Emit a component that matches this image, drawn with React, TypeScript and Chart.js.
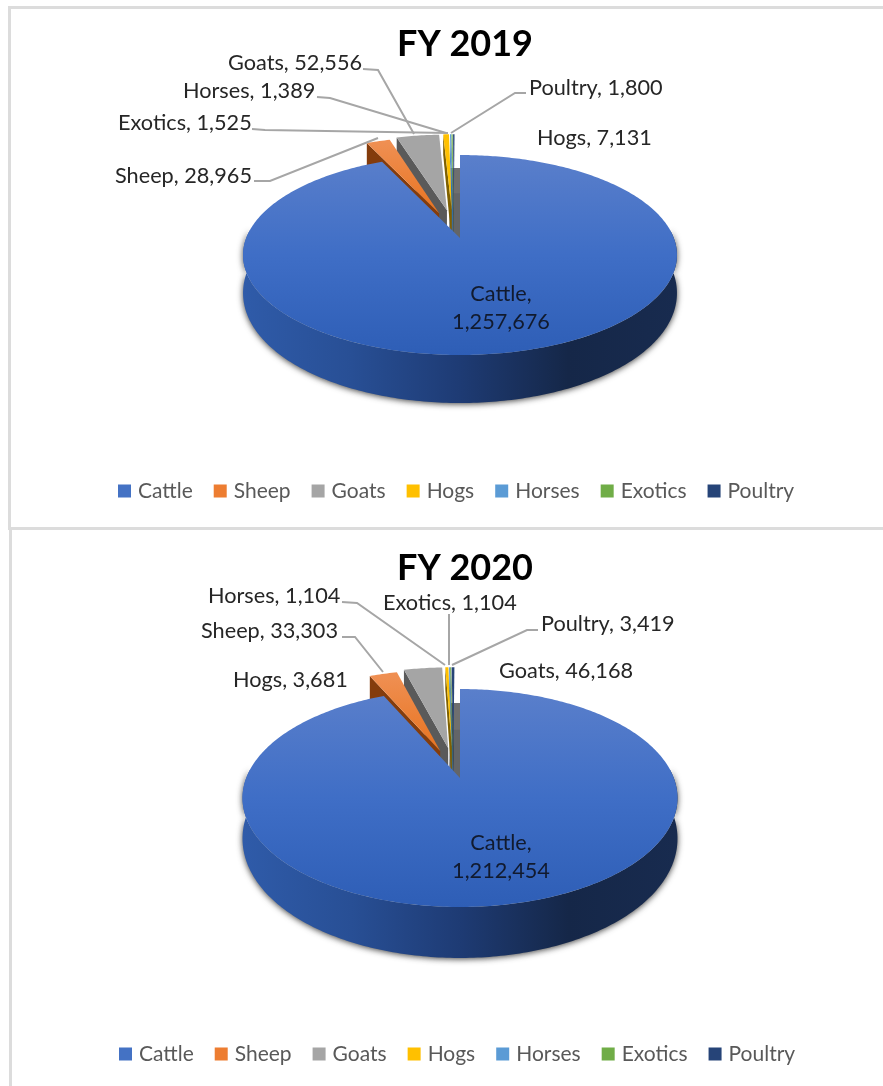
import React, { useEffect, useRef } from "react";
import { Chart, registerables } from "chart.js";

Chart.register(...registerables);

const categories = ["Cattle", "Sheep", "Goats", "Hogs", "Horses", "Exotics", "Poultry"];
const values2019 = [1257676, 28965, 52556, 7131, 1389, 1525, 1800];
const values2020 = [1212454, 33303, 46168, 3681, 1104, 1104, 3419];
const faceColors = ["#4472c4", "#ed7d31", "#a5a5a5", "#ffc000", "#5b9bd5", "#70ad47", "#264478"];
const wallColors = ["#1f3864", "#843c0c", "#5a5a5a", "#7f6000", "#2e75b6", "#385723", "#172a4a"];
const leanU = [0, 0, -0.014, -0.03, -0.03, -0.03, -0.03];
const leanV = [0, 0, -0.02, -0.02, -0.02, -0.02, -0.02];

type Callout = { cat: number; x: number; y: number; line?: number[][] };

const layout2019 = {
  left: 11, top: 9, width: 872, height: 518,
  cx: 460, cy: 238, a: 97.1, b: 213.8, k: 0.17, depth: 48, top_y: 155, front_y: 355,
  callouts: [
    { cat: 2, x: 228, y: 63, line: [[363, 69], [378, 70], [414, 134]] },
    { cat: 4, x: 183, y: 91, line: [[317, 97], [330, 98], [446, 133]] },
    { cat: 5, x: 118, y: 123, line: [[252, 129], [265, 130], [448, 133]] },
    { cat: 1, x: 115, y: 176, line: [[254, 181], [270, 181], [378, 138]] },
    { cat: 6, x: 529, y: 88, line: [[526, 93], [515, 93], [451, 133]] },
    { cat: 3, x: 537, y: 138 },
  ] as Callout[],
  cattle: [501, 294, 322],
};

const layout2020 = {
  left: 12, top: 530, width: 871, height: 556,
  cx: 460, cy: 778, a: 105.3, b: 213.8, k: 0.1835, depth: 51, top_y: 689, front_y: 907,
  callouts: [
    { cat: 4, x: 208, y: 596, line: [[342, 602], [357, 603], [445, 665]] },
    { cat: 5, x: 383, y: 603, line: [[449, 614], [449, 665]] },
    { cat: 6, x: 541, y: 624, line: [[538, 630], [527, 630], [452, 665]] },
    { cat: 1, x: 201, y: 631, line: [[342, 637], [355, 637], [383, 672]] },
    { cat: 3, x: 233, y: 680 },
    { cat: 2, x: 499, y: 671 },
  ] as Callout[],
  cattle: [501, 843, 871],
};

const LABEL_FONT = "21.7px Lato, 'Open Sans', sans-serif";
const fmt = (n: number) => n.toLocaleString("en-US");

function makePiePlugin(L: typeof layout2019, values: number[]) {
  return {
    id: "pie3d",
    beforeDatasetsDraw(chart: any) {
      const ctx: CanvasRenderingContext2D = chart.ctx;
      const arcs = chart.getDatasetMeta(0).data as any[];
      const proj = (u: number, v: number, z = 0): [number, number] => {
        const w = 1 - L.k * v;
        const vc = Math.max(-1.4, Math.min(1, v));
        return [L.cx + (L.b * u) / w, L.cy + (L.a * v) / w + z * L.depth * (0.75 + 0.25 * vc)];
      };
      const poly = (pts: [number, number][]) => {
        ctx.beginPath();
        pts.forEach((p, i) => (i ? ctx.lineTo(p[0], p[1]) : ctx.moveTo(p[0], p[1])));
        ctx.closePath();
      };
      const rim = (from: number, to: number, eu: number, ev: number, z = 0) => {
        const n = Math.max(2, Math.ceil(Math.abs(to - from) / 0.015));
        const out: [number, number][] = [];
        for (let i = 0; i <= n; i++) {
          const t = from + ((to - from) * i) / n;
          out.push(proj(Math.cos(t) + eu, Math.sin(t) + ev, z));
        }
        return out;
      };

      ctx.save();
      ctx.translate(-L.left, -L.top);

      // cattle outer wall
      const cattle = arcs[0];
      const wg = ctx.createLinearGradient(L.cx - 217, 0, L.cx + 217, 0);
      wg.addColorStop(0, "#2f5ba9");
      wg.addColorStop(0.25, "#284f95");
      wg.addColorStop(0.5, "#1e3b74");
      wg.addColorStop(0.75, "#152748");
      wg.addColorStop(1, "#182b4f");
      const from = -0.08;
      const to = Math.PI + 0.08;
      ctx.save();
      ctx.shadowColor = "rgba(30,30,30,0.85)";
      ctx.shadowBlur = 6;
      ctx.shadowOffsetY = 1;
      poly([...rim(from, to, 0, 0, 0), ...rim(to, from, 0, 0, 1)]);
      ctx.fillStyle = wg;
      ctx.fill();
      ctx.restore();

      // shade seen through the notch
      ctx.fillStyle = "#6f6f6f";
      poly([proj(-0.05, -0.82), proj(0.01, -0.82), proj(0.01, 0), proj(-0.05, 0)]);
      ctx.fill();
      ctx.fillStyle = "#636568";
      poly([proj(-0.05, -0.5), proj(0.01, -0.5), proj(0.01, 0), proj(-0.05, 0)]);
      ctx.fill();

      // exploded small slices, right to left so each covers the wall of the next
      for (let i = arcs.length - 1; i >= 1; i--) {
        const el = arcs[i];
        const s = el.startAngle;
        const e2 = el.endAngle;
        const mid = (s + e2) / 2;
        const d = (el.options.offset || 0) / 100;
        const eu = Math.cos(mid) * d + leanU[i];
        const ev = Math.sin(mid) * d + leanV[i];
        const apex = proj(eu, ev);
        const apexB = proj(eu, ev, 1);
        const start = proj(Math.cos(s) + eu, Math.sin(s) + ev);
        const startB = proj(Math.cos(s) + eu, Math.sin(s) + ev, 1);
        ctx.fillStyle = wallColors[i];
        poly([apex, start, startB, apexB]);
        ctx.fill();
        const g = ctx.createLinearGradient(0, start[1], 0, apex[1]);
        g.addColorStop(0, i === 1 ? "#ef8f52" : faceColors[i]);
        g.addColorStop(1, i === 1 ? "#e8731f" : faceColors[i]);
        ctx.fillStyle = g;
        poly([apex, ...rim(s, e2, eu, ev)]);
        ctx.fill();
      }

      // cattle top face
      const tg = ctx.createLinearGradient(0, L.top_y, 0, L.front_y);
      tg.addColorStop(0, "#5a7fcb");
      tg.addColorStop(0.5, "#3f6ec6");
      tg.addColorStop(1, "#2e5eb6");
      ctx.fillStyle = tg;
      poly([proj(0, 0), ...rim(cattle.startAngle, cattle.endAngle, 0, 0)]);
      ctx.fill();

      // leader lines
      ctx.strokeStyle = "#a6a6a6";
      ctx.lineWidth = 2;
      L.callouts.forEach((c) => {
        if (!c.line) return;
        ctx.beginPath();
        c.line.forEach((p, i) => (i ? ctx.lineTo(p[0], p[1]) : ctx.moveTo(p[0], p[1])));
        ctx.stroke();
      });

      // data labels
      ctx.font = LABEL_FONT;
      ctx.fillStyle = "#262626";
      ctx.textBaseline = "middle";
      ctx.textAlign = "left";
      L.callouts.forEach((c) => {
        ctx.fillText(`${categories[c.cat]}, ${fmt(values[c.cat])}`, c.x, c.y);
      });
      ctx.textAlign = "center";
      ctx.fillStyle = "#111a2e";
      ctx.fillText(`${categories[0]},`, L.cattle[0], L.cattle[1]);
      ctx.fillText(fmt(values[0]), L.cattle[0], L.cattle[2]);
      ctx.restore();
      return false;
    },
  };
}

function Pie({ title, values, L, pad, titleTop }: { title: string; values: number[]; L: typeof layout2019; pad: { left: number; right: number; bottom: number }; titleTop: number }) {
  const ref = useRef<HTMLCanvasElement>(null);
  useEffect(() => {
    const chart = new Chart(ref.current as HTMLCanvasElement, {
      type: "pie",
      data: {
        labels: categories,
        datasets: [
          {
            data: values,
            backgroundColor: faceColors,
            borderWidth: 0,
            rotation: 0,
            offset: (c: any) => (c.dataIndex === 0 ? 0 : 28.5),
          } as any,
        ],
      },
      plugins: [makePiePlugin(L, values)],
      options: {
        responsive: false,
        animation: false,
        layout: { padding: pad },
        plugins: {
          tooltip: { enabled: false },
          title: {
            display: true,
            text: title,
            color: "#000000",
            font: { family: "Lato, 'Open Sans', sans-serif", size: 36, weight: "bold" },
            padding: { top: titleTop, bottom: 4 },
          },
          legend: {
            position: "bottom",
            align: "start",
            labels: {
              usePointStyle: true,
              pointStyle: "rect",
              boxWidth: 6,
              boxHeight: 13,
              padding: 24.5,
              color: "#595959",
              font: { family: "Lato, 'Open Sans', sans-serif", size: 21 },
            },
          },
        },
      },
    } as any);
    return () => chart.destroy();
  }, []);
  return (
    <canvas
      ref={ref}
      width={L.width}
      height={L.height}
      style={{ position: "absolute", left: L.left, top: L.top, width: L.width, height: L.height }}
    />
  );
}

export default function App() {
  const line = "#dcdcdc";
  return (
    <div style={{ position: "absolute", left: 0, top: 0, width: 883, height: 1086, overflow: "hidden", background: "#fff" }}>
      <div style={{ position: "absolute", left: 8, top: 6, width: 875, height: 3, background: line }} />
      <div style={{ position: "absolute", left: 8, top: 6, width: 3, height: 521, background: line }} />
      <div style={{ position: "absolute", left: 8, top: 527, width: 875, height: 3, background: line }} />
      <div style={{ position: "absolute", left: 9, top: 527, width: 3, height: 559, background: line }} />
      <Pie title="FY 2019" values={values2019} L={layout2019} pad={{ left: 86, right: 50, bottom: 15.5 }} titleTop={14} />
      <Pie title="FY 2020" values={values2020} L={layout2020} pad={{ left: 86, right: 51, bottom: 11.5 }} titleTop={17} />
    </div>
  );
}
